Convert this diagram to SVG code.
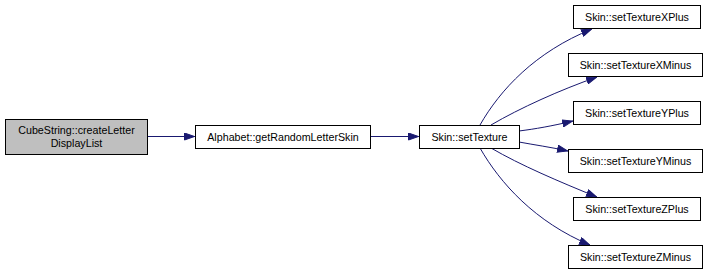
<svg xmlns="http://www.w3.org/2000/svg" width="709" height="275" viewBox="0 0 709 275">
  <style>
    .node rect { fill: #ffffff; stroke: #000000; stroke-width: 1; }
    .node.root rect { fill: #bfbfbf; }
    .node text { font-family: "Liberation Sans", Arial, sans-serif; font-size: 10.7px; fill: #000000; text-anchor: middle; }
    .edge { fill: none; stroke: #191970; stroke-width: 1; marker-end: url(#arrow); }
  </style>
  <defs>
    <marker id="arrow" viewBox="0 0 11 8" refX="11" refY="4" markerWidth="11" markerHeight="8" markerUnits="userSpaceOnUse" orient="auto">
      <path d="M0.5,0.5 L10.5,4 L0.5,7.5 z" fill="#191970" stroke="#191970" stroke-width="1"/>
    </marker>
  </defs>
  <rect width="709" height="275" fill="#ffffff"/>

  <g id="connectors">
    <path class="edge" d="M147,136.5 L195,136.5"/>
    <path class="edge" d="M370,136.5 L419,136.5"/>
    <path class="edge" d="M480,125 C500,90 535,52 592,29"/>
    <path class="edge" d="M491,125 C520,108 560,90 597,77"/>
    <path class="edge" d="M519,131 C535,129 552,126 573,121"/>
    <path class="edge" d="M519,142 C535,145 550,147 568,151"/>
    <path class="edge" d="M491,148 C520,165 560,182 597,197"/>
    <path class="edge" d="M480,148 C500,183 535,222 590,245"/>
  </g>

  <g id="node-createLetterDisplayList" class="node root">
    <rect x="5.5" y="119.5" width="142" height="35"/>
    <text x="76.5" y="134">CubeString::createLetter</text>
    <text x="76.5" y="147">DisplayList</text>
  </g>
  <g id="node-getRandomLetterSkin" class="node">
    <rect x="195.5" y="125.5" width="175" height="23"/>
    <text x="283" y="140.5">Alphabet::getRandomLetterSkin</text>
  </g>
  <g id="node-setTexture" class="node">
    <rect x="419.5" y="125.5" width="100" height="23"/>
    <text x="469.5" y="140.5">Skin::setTexture</text>
  </g>
  <g id="node-setTextureXPlus" class="node">
    <rect x="573.5" y="5.5" width="127" height="23"/>
    <text x="637" y="20.5">Skin::setTextureXPlus</text>
  </g>
  <g id="node-setTextureXMinus" class="node">
    <rect x="568.5" y="53.5" width="134" height="23"/>
    <text x="635.5" y="68.5">Skin::setTextureXMinus</text>
  </g>
  <g id="node-setTextureYPlus" class="node">
    <rect x="573.5" y="101.5" width="127" height="23"/>
    <text x="637" y="116.5">Skin::setTextureYPlus</text>
  </g>
  <g id="node-setTextureYMinus" class="node">
    <rect x="568.5" y="149.5" width="134" height="23"/>
    <text x="635.5" y="164.5">Skin::setTextureYMinus</text>
  </g>
  <g id="node-setTextureZPlus" class="node">
    <rect x="573.5" y="197.5" width="127" height="23"/>
    <text x="637" y="212.5">Skin::setTextureZPlus</text>
  </g>
  <g id="node-setTextureZMinus" class="node">
    <rect x="568.5" y="245.5" width="134" height="23"/>
    <text x="635.5" y="260.5">Skin::setTextureZMinus</text>
  </g>
</svg>
